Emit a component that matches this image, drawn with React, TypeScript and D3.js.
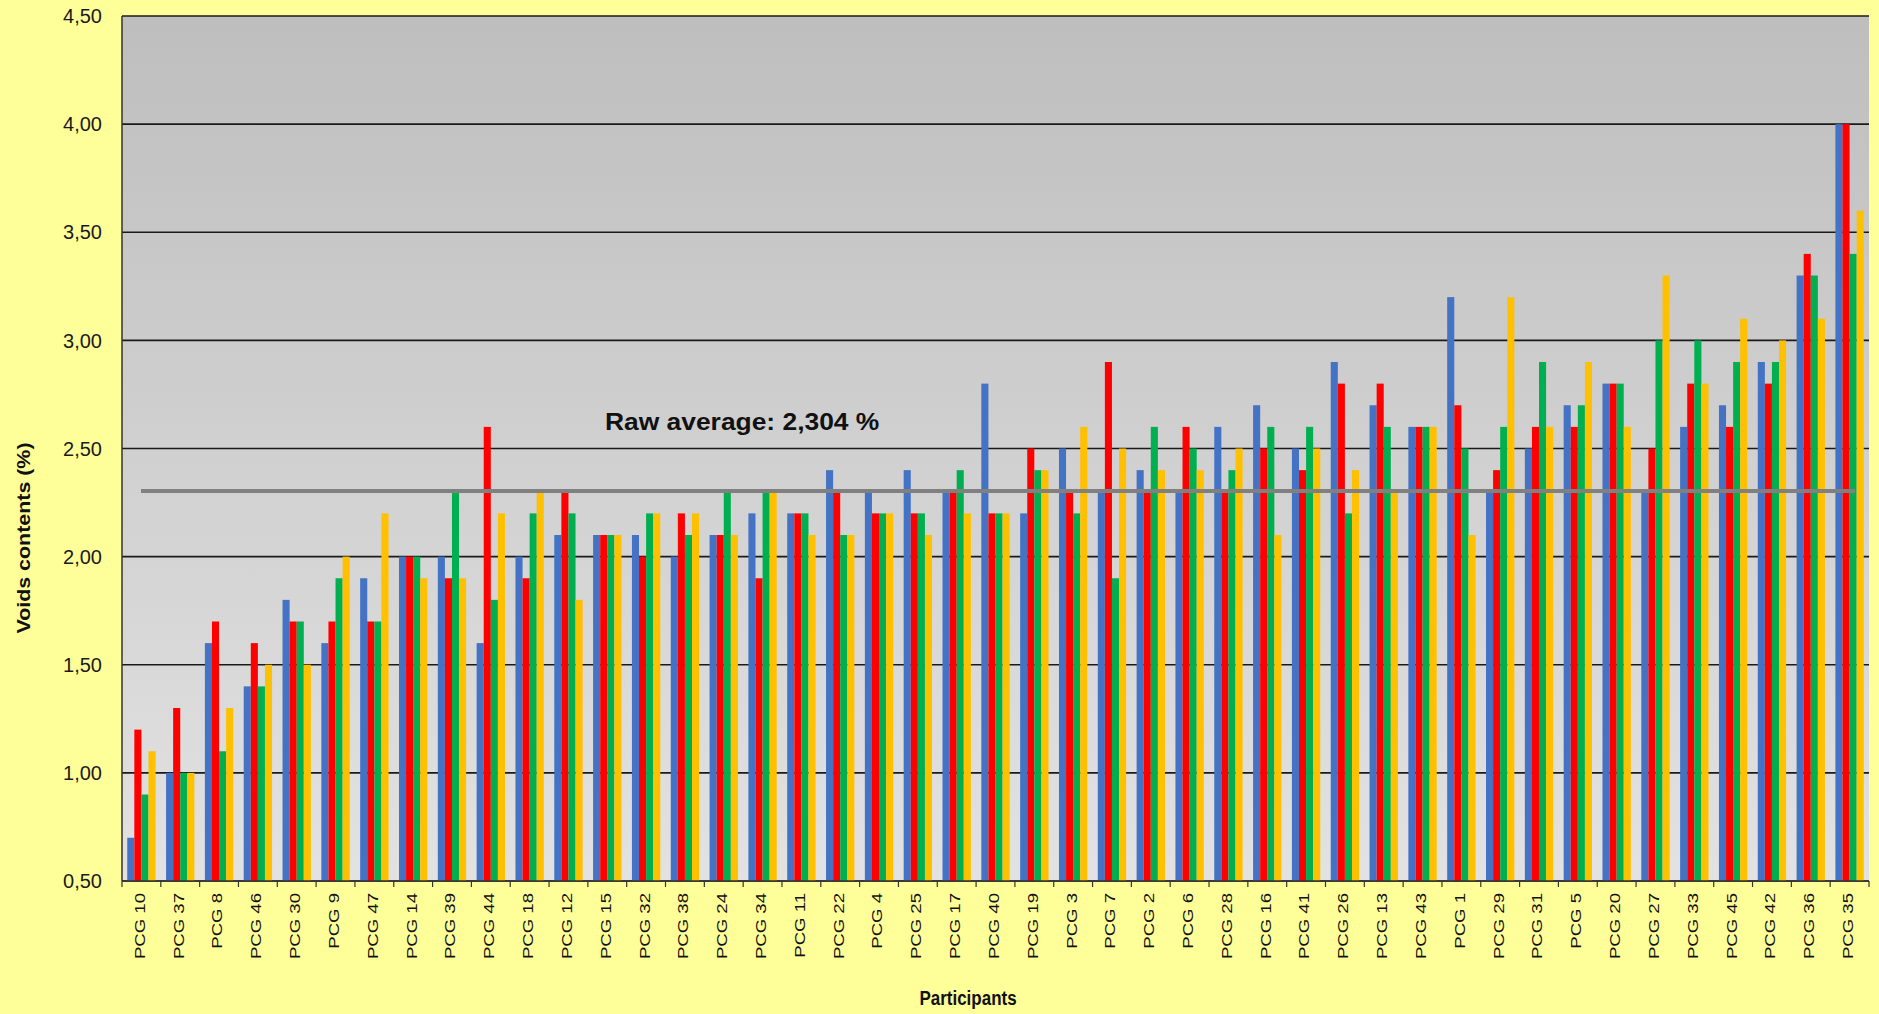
import React from "react";
import * as d3 from "d3";

const participants = [
  "PCG 10", "PCG 37", "PCG 8", "PCG 46", "PCG 30", "PCG 9", "PCG 47", "PCG 14", "PCG 39", "PCG 44",
  "PCG 18", "PCG 12", "PCG 15", "PCG 32", "PCG 38", "PCG 24", "PCG 34", "PCG 11", "PCG 22", "PCG 4",
  "PCG 25", "PCG 17", "PCG 40", "PCG 19", "PCG 3", "PCG 7", "PCG 2", "PCG 6", "PCG 28", "PCG 16",
  "PCG 41", "PCG 26", "PCG 13", "PCG 43", "PCG 1", "PCG 29", "PCG 31", "PCG 5", "PCG 20", "PCG 27",
  "PCG 33", "PCG 45", "PCG 42", "PCG 36", "PCG 35",
];

const seriesBlue = [
  0.7, 1.0, 1.6, 1.4, 1.8, 1.6, 1.9, 2.0, 2.0, 1.6,
  2.0, 2.1, 2.1, 2.1, 2.0, 2.1, 2.2, 2.2, 2.4, 2.3,
  2.4, 2.3, 2.8, 2.2, 2.5, 2.3, 2.4, 2.3, 2.6, 2.7,
  2.5, 2.9, 2.7, 2.6, 3.2, 2.3, 2.5, 2.7, 2.8, 2.3,
  2.6, 2.7, 2.9, 3.3, 4.0,
];
const seriesRed = [
  1.2, 1.3, 1.7, 1.6, 1.7, 1.7, 1.7, 2.0, 1.9, 2.6,
  1.9, 2.3, 2.1, 2.0, 2.2, 2.1, 1.9, 2.2, 2.3, 2.2,
  2.2, 2.3, 2.2, 2.5, 2.3, 2.9, 2.3, 2.6, 2.3, 2.5,
  2.4, 2.8, 2.8, 2.6, 2.7, 2.4, 2.6, 2.6, 2.8, 2.5,
  2.8, 2.6, 2.8, 3.4, 4.0,
];
const seriesGreen = [
  0.9, 1.0, 1.1, 1.4, 1.7, 1.9, 1.7, 2.0, 2.3, 1.8,
  2.2, 2.2, 2.1, 2.2, 2.1, 2.3, 2.3, 2.2, 2.1, 2.2,
  2.2, 2.4, 2.2, 2.4, 2.2, 1.9, 2.6, 2.5, 2.4, 2.6,
  2.6, 2.2, 2.6, 2.6, 2.5, 2.6, 2.9, 2.7, 2.8, 3.0,
  3.0, 2.9, 2.9, 3.3, 3.4,
];
const seriesOrange = [
  1.1, 1.0, 1.3, 1.5, 1.5, 2.0, 2.2, 1.9, 1.9, 2.2,
  2.3, 1.8, 2.1, 2.2, 2.2, 2.1, 2.3, 2.1, 2.1, 2.2,
  2.1, 2.2, 2.2, 2.4, 2.6, 2.5, 2.4, 2.4, 2.5, 2.1,
  2.5, 2.4, 2.3, 2.6, 2.1, 3.2, 2.6, 2.9, 2.6, 3.3,
  2.8, 3.1, 3.0, 3.1, 3.6,
];

const seriesList = [seriesBlue, seriesRed, seriesGreen, seriesOrange];
const seriesColors = ["#4472C4", "#FF0000", "#00B050", "#FFC000"];

const yTicks = [0.5, 1.0, 1.5, 2.0, 2.5, 3.0, 3.5, 4.0, 4.5];
const rawAverage = 2.304;
const avgLabel = "Raw average: 2,304 %";
const yTitle = "Voids contents (%)";
const xTitle = "Participants";

const W = 1879;
const H = 1014;
const left = 122;
const right = 1869;
const top = 16;
const bottom = 881;

export default function App() {
  const x0 = d3
    .scaleBand<string>()
    .domain(participants)
    .range([left, right])
    .paddingInner(0.27)
    .paddingOuter(0.135);
  const x1 = d3
    .scaleBand<number>()
    .domain(d3.range(seriesList.length))
    .range([0, x0.bandwidth()])
    .padding(0);
  const y = d3.scaleLinear().domain([0.5, 4.5]).range([bottom, top]);
  const fmt = (v: number) => d3.format(".2f")(v).replace(".", ",");
  const step = (right - left) / participants.length;
  const boundaries = d3.range(participants.length + 1).map((i) => left + i * step);

  return (
    <svg
      width={W}
      height={H}
      style={{ position: "absolute", left: 0, top: 0, display: "block" }}
      fontFamily="'Liberation Sans', Arial, sans-serif"
    >
      <defs>
        <linearGradient id="plotBg" x1="0" y1="0" x2="0" y2="1">
          <stop offset="0" stopColor="#BEBEBE" />
          <stop offset="1" stopColor="#E2E2E2" />
        </linearGradient>
      </defs>
      <rect x={0} y={0} width={W} height={H} fill="#FFFF99" />
      <rect x={left} y={top} width={right - left} height={bottom - top} fill="url(#plotBg)" />

      {/* gridlines */}
      {yTicks.map((t) => (
        <line key={"g" + t} x1={left} x2={right} y1={y(t)} y2={y(t)} stroke="#1a1a1a" strokeWidth={1.7} />
      ))}

      {/* bars */}
      {participants.map((p, i) => (
        <g key={p} transform={`translate(${x0(p)},0)`}>
          {seriesList.map((s, k) => (
            <rect
              key={k}
              x={x1(k)}
              y={y(s[i])}
              width={x1.bandwidth()}
              height={y(0.5) - y(s[i])}
              fill={seriesColors[k]}
            />
          ))}
        </g>
      ))}

      {/* average line */}
      <line
        x1={left + 19}
        x2={right - 14}
        y1={y(rawAverage)}
        y2={y(rawAverage)}
        stroke="#808080"
        strokeWidth={4}
      />
      <text
        transform={`translate(605,430) scale(1.1,1)`}
        fontSize={24}
        fontWeight="bold"
        fill="#111"
      >
        {avgLabel}
      </text>

      {/* axes */}
      <line x1={left} x2={left} y1={top} y2={bottom} stroke="#333" strokeWidth={1.5} />
      <line x1={left} x2={right} y1={bottom} y2={bottom} stroke="#333" strokeWidth={1.5} />
      {boundaries.map((bx, i) => (
        <line key={"t" + i} x1={bx} x2={bx} y1={bottom} y2={bottom + 6} stroke="#333" strokeWidth={1.2} />
      ))}
      {yTicks.map((t) => (
        <text key={"yl" + t} x={102} y={y(t)} dy="0.36em" textAnchor="end" fontSize={20} fill="#1a1a1a">
          {fmt(t)}
        </text>
      ))}
      {participants.map((p) => (
        <text
          key={"xl" + p}
          transform={`translate(${(x0(p) as number) + x0.bandwidth() / 2 - 2},${bottom + 12}) rotate(-90) scale(1.24,1)`}
          textAnchor="end"
          dy="0.36em"
          fontSize={15}
          fill="#111"
        >
          {p}
        </text>
      ))}

      {/* axis titles */}
      <text
        transform={`translate(30,538) rotate(-90) scale(1.19,1)`}
        textAnchor="middle"
        fontSize={18}
        fontWeight="bold"
        fill="#111"
      >
        {yTitle}
      </text>
      <text
        transform={`translate(968,1005) scale(1,1.15)`}
        textAnchor="middle"
        fontSize={17}
        fontWeight="bold"
        fill="#111"
      >
        {xTitle}
      </text>
    </svg>
  );
}
